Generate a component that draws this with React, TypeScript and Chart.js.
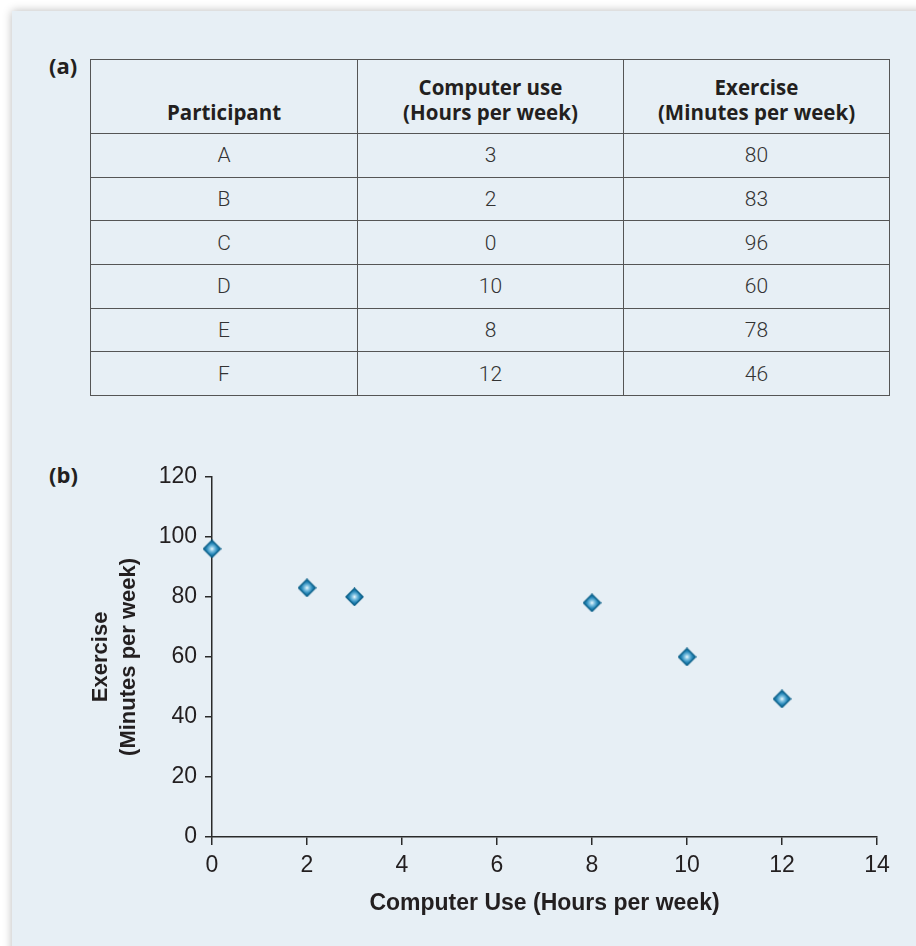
import React, { useEffect, useRef } from "react";
import { Chart, registerables } from "chart.js";

Chart.register(...registerables);

const participants = ["A", "B", "C", "D", "E", "F"];
const computerUse = [3, 2, 0, 10, 8, 12];
const exercise = [80, 83, 96, 60, 78, 46];
const xTitle = "Computer Use (Hours per week)";
const yTitle = ["Exercise", "(Minutes per week)"];
const headers = [["Participant"], ["Computer use", "(Hours per week)"], ["Exercise", "(Minutes per week)"]];

function makeDiamond(): HTMLCanvasElement {
  const c = document.createElement("canvas");
  const s = 19;
  c.width = s;
  c.height = s;
  const ctx = c.getContext("2d")!;
  const h = s / 2;
  const r = 8.5;
  ctx.beginPath();
  ctx.moveTo(h, h - r);
  ctx.lineTo(h + r, h);
  ctx.lineTo(h, h + r);
  ctx.lineTo(h - r, h);
  ctx.closePath();
  const g = ctx.createRadialGradient(h, h, 0, h, h, r);
  g.addColorStop(0, "#eef9fe");
  g.addColorStop(0.3, "#7cc0e0");
  g.addColorStop(0.65, "#2384b6");
  g.addColorStop(1, "#0f6a99");
  ctx.fillStyle = g;
  ctx.fill();
  ctx.lineWidth = 1.4;
  ctx.strokeStyle = "#0a5f88";
  ctx.stroke();
  return c;
}

function ScatterChart() {
  const ref = useRef<HTMLCanvasElement>(null);
  useEffect(() => {
    const diamond = makeDiamond();
    const chart = new Chart(ref.current!, {
      type: "scatter",
      data: {
        datasets: [
          {
            data: computerUse.map((x, i) => ({ x, y: exercise[i] })),
            pointStyle: diamond as any,
            pointRadius: 9,
            clip: false as any,
          },
        ],
      },
      options: {
        animation: false,
        responsive: false,
        devicePixelRatio: 1,
        layout: { padding: { left: 0, top: 20, right: 33, bottom: 0 } },
        plugins: { legend: { display: false }, tooltip: { enabled: false } },
        scales: {
          x: {
            type: "linear",
            min: 0,
            max: 14,
            ticks: { stepSize: 2, color: "#231f20", font: { size: 23, family: "Liberation Sans" }, padding: 7 },
            grid: { display: true, drawOnChartArea: false, drawTicks: true, tickLength: 8, color: "#2a2a2a", lineWidth: 1.5 },
            border: { display: true, color: "#2a2a2a", width: 1.5 },
            title: {
              display: true,
              text: xTitle,
              color: "#231f20",
              font: { size: 23, weight: "bold", family: "Liberation Sans", lineHeight: 1.2 },
              padding: { top: 0, bottom: 18 },
            },
            afterFit: (s: any) => {
              s.height = 98;
            },
          },
          y: {
            type: "linear",
            min: 0,
            max: 120,
            ticks: { stepSize: 20, color: "#231f20", font: { size: 23, family: "Liberation Sans" }, padding: 8 },
            grid: { display: true, drawOnChartArea: false, drawTicks: true, tickLength: 7, color: "#2a2a2a", lineWidth: 1.5 },
            border: { display: true, color: "#2a2a2a", width: 1.5 },
            title: {
              display: true,
              text: yTitle,
              color: "#231f20",
              font: { size: 22, weight: "bold", family: "Liberation Sans", lineHeight: 1.27 },
              padding: { top: 7, bottom: 0 },
            },
            afterFit: (s: any) => {
              s.width = 132;
            },
          },
        },
      },
    });
    return () => chart.destroy();
  }, []);
  return <canvas ref={ref} width={830} height={480} style={{ display: "block" }} />;
}

export default function App() {
  const border = "1.5px solid #555";
  const cellBase: React.CSSProperties = {
    border,
    textAlign: "center",
    padding: 0,
    color: "#333",
    fontFamily: "Roboto, 'Liberation Sans', sans-serif",
    fontWeight: 300,
    fontSize: 21,
    height: 42.7,
  };
  const headStyle: React.CSSProperties = {
    ...cellBase,
    fontFamily: "'Open Sans', 'Liberation Sans', sans-serif",
    fontWeight: 700,
    fontSize: 20.5,
    color: "#231f20",
    verticalAlign: "bottom",
    paddingBottom: 8,
    lineHeight: "25px",
    height: 65,
  };
  const labelStyle: React.CSSProperties = {
    position: "absolute",
    fontFamily: "'Open Sans', 'Liberation Sans', sans-serif",
    fontWeight: 700,
    fontSize: 22,
    color: "#231f20",
    lineHeight: "26px",
  };
  return (
    <div style={{ position: "absolute", left: 0, top: 0, width: 916, height: 946, overflow: "hidden", background: "#fff" }}>
      <div
        style={{
          position: "absolute",
          left: 12,
          top: 11,
          width: 930,
          height: 960,
          background: "#e7eff5",
          boxShadow: "0 0 9px rgba(0,0,0,0.28)",
        }}
      />
      <div style={{ ...labelStyle, left: 49, top: 52 }}>(a)</div>
      <div style={{ ...labelStyle, left: 49, top: 461 }}>(b)</div>
      <table
        style={{
          position: "absolute",
          left: 90,
          top: 59,
          width: 799,
          borderCollapse: "collapse",
          tableLayout: "fixed",
        }}
      >
        <colgroup>
          <col style={{ width: 267 }} />
          <col style={{ width: 266 }} />
          <col style={{ width: 266 }} />
        </colgroup>
        <thead>
          <tr>
            {headers.map((h, i) => (
              <th key={i} style={headStyle}>
                {h.map((line, j) => (
                  <div key={j}>{line}</div>
                ))}
              </th>
            ))}
          </tr>
        </thead>
        <tbody>
          {participants.map((p, i) => (
            <tr key={p}>
              <td style={cellBase}>{p}</td>
              <td style={cellBase}>{computerUse[i]}</td>
              <td style={cellBase}>{exercise[i]}</td>
            </tr>
          ))}
        </tbody>
      </table>
      <div style={{ position: "absolute", left: 80, top: 455 }}>
        <ScatterChart />
      </div>
    </div>
  );
}
